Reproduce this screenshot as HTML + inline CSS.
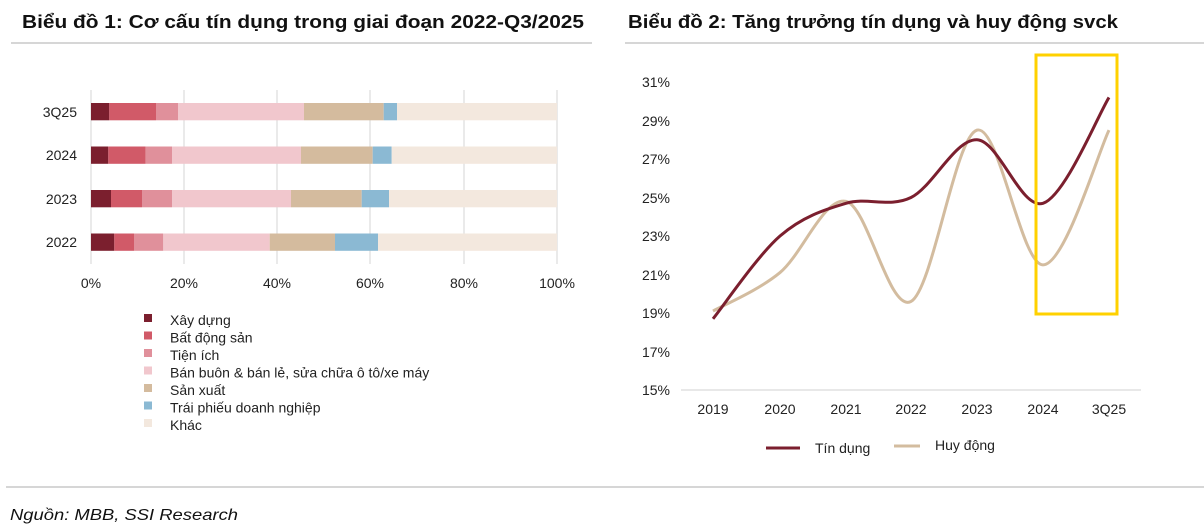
<!DOCTYPE html>
<html><head><meta charset="utf-8"><style>
html,body{margin:0;padding:0;background:#fff;}
svg{display:block;font-family:"Liberation Sans",sans-serif;}
</style></head><body>
<svg id="s" width="1204" height="532" viewBox="0 0 1204 532" xmlns="http://www.w3.org/2000/svg">
<text x="22" y="28" font-size="18.5" font-weight="bold" fill="#111" textLength="562" lengthAdjust="spacingAndGlyphs">Biểu đồ 1: Cơ cấu tín dụng trong giai đoạn 2022-Q3/2025</text>
<text x="628" y="28" font-size="18.5" font-weight="bold" fill="#111" textLength="490" lengthAdjust="spacingAndGlyphs">Biểu đồ 2: Tăng trưởng tín dụng và huy động svck</text>
<line x1="11" y1="43" x2="592" y2="43" stroke="#bdbdbd" stroke-width="1.2"/>
<line x1="625" y1="43" x2="1204" y2="43" stroke="#bdbdbd" stroke-width="1.2"/>
<line x1="6" y1="487" x2="1204" y2="487" stroke="#bdbdbd" stroke-width="1.2"/>
<text x="10" y="520" font-size="16" font-style="italic" fill="#111" textLength="228" lengthAdjust="spacingAndGlyphs">Nguồn: MBB, SSI Research</text>

<g stroke="#dedede" stroke-width="1.3">
<line x1="91" y1="90" x2="91" y2="264"/><line x1="184" y1="90" x2="184" y2="264"/><line x1="277" y1="90" x2="277" y2="264"/>
<line x1="370" y1="90" x2="370" y2="264"/><line x1="464" y1="90" x2="464" y2="264"/><line x1="557" y1="90" x2="557" y2="264"/>
</g>
<g id="bars"></g>
<g font-size="14" fill="#222" text-anchor="end">
<text x="77" y="117">3Q25</text><text x="77" y="160">2024</text><text x="77" y="204">2023</text><text x="77" y="247">2022</text>
</g>
<g font-size="14" fill="#222" text-anchor="middle">
<text x="91" y="288">0%</text><text x="184" y="288">20%</text><text x="277" y="288">40%</text><text x="370" y="288">60%</text><text x="464" y="288">80%</text><text x="557" y="288">100%</text>
</g>
<g id="leg" font-size="14" fill="#222"></g>

<g font-size="14" fill="#222" text-anchor="end">
<text x="670" y="87">31%</text><text x="670" y="126">29%</text><text x="670" y="164">27%</text><text x="670" y="203">25%</text>
<text x="670" y="241">23%</text><text x="670" y="280">21%</text><text x="670" y="318">19%</text><text x="670" y="357">17%</text><text x="670" y="395">15%</text>
</g>
<line x1="681" y1="390" x2="1141" y2="390" stroke="#d9d9d9" stroke-width="1.3"/>
<g font-size="14" fill="#222" text-anchor="middle">
<text x="713" y="414">2019</text><text x="780" y="414">2020</text><text x="846" y="414">2021</text><text x="911" y="414">2022</text>
<text x="977" y="414">2023</text><text x="1043" y="414">2024</text><text x="1109" y="414">3Q25</text>
</g>
<path id="hd" fill="none" stroke="#d3bc9f" stroke-width="3"/>
<path id="td" fill="none" stroke="#7b1f2e" stroke-width="3"/>
<rect x="1036" y="55" width="81" height="259" fill="none" stroke="#ffd100" stroke-width="3"/>
<line x1="766" y1="448" x2="800" y2="448" stroke="#7b1f2e" stroke-width="3"/>
<text x="815" y="453" font-size="14" fill="#222">Tín dụng</text>
<line x1="894" y1="446" x2="920" y2="446" stroke="#d3bc9f" stroke-width="3"/>
<text x="935" y="450" font-size="14" fill="#222">Huy động</text>
</svg>
<script>
var NS="http://www.w3.org/2000/svg";
var cols=["#7b1f2e","#d15a68","#e0909b","#f1c7cd","#d4bb9e","#8bb9d3","#f3e8de"];
var bars=[[103,[91,109.3,156,178,304,383.7,397,557]],[146.5,[91,108.3,145.7,172,301,372.7,391.7,557]],[190,[91,111,142,172,291,361.7,389,557]],[233.5,[91,114.3,134,163.3,269.7,335,378,557]]];
var g=document.getElementById("bars");
bars.forEach(function(b){for(var i=0;i<7;i++){var r=document.createElementNS(NS,"rect");r.setAttribute("x",b[1][i]);r.setAttribute("y",b[0]);r.setAttribute("width",b[1][i+1]-b[1][i]);r.setAttribute("height",17.3);r.setAttribute("fill",cols[i]);g.appendChild(r);}});
var names=["Xây dựng","Bất động sản","Tiện ích","Bán buôn & bán lẻ, sửa chữa ô tô/xe máy","Sản xuất","Trái phiếu doanh nghiệp","Khác"];
var L=document.getElementById("leg");
names.forEach(function(n,i){var y=314+i*17.5;var r=document.createElementNS(NS,"rect");r.setAttribute("x",144);r.setAttribute("y",y);r.setAttribute("width",8);r.setAttribute("height",8);r.setAttribute("fill",cols[i]);L.appendChild(r);
var t=document.createElementNS(NS,"text");t.setAttribute("x",170);t.setAttribute("y",y+11);t.textContent=n;L.appendChild(t);});
var xs=[713,780,846,911,977,1043,1109];
function yv(v){return 390-(v-15)*19.25;}
function path(vals){var p=xs.map(function(x,i){return [x,yv(vals[i])];});var d="M"+p[0][0]+","+p[0][1];
for(var i=0;i<p.length-1;i++){var p0=p[i-1]||p[i],p1=p[i],p2=p[i+1],p3=p[i+2]||p2;var t=1/6;
d+=" C"+(p1[0]+(p2[0]-p0[0])*t)+","+(p1[1]+(p2[1]-p0[1])*t)+" "+(p2[0]-(p3[0]-p1[0])*t)+","+(p2[1]-(p3[1]-p1[1])*t)+" "+p2[0]+","+p2[1];}return d;}
document.getElementById("td").setAttribute("d",path([18.7,23.0,24.7,25.0,28.0,24.7,30.2]));
document.getElementById("hd").setAttribute("d",path([19.1,21.1,24.8,19.6,28.5,21.5,28.5]));
</script>
</body></html>
